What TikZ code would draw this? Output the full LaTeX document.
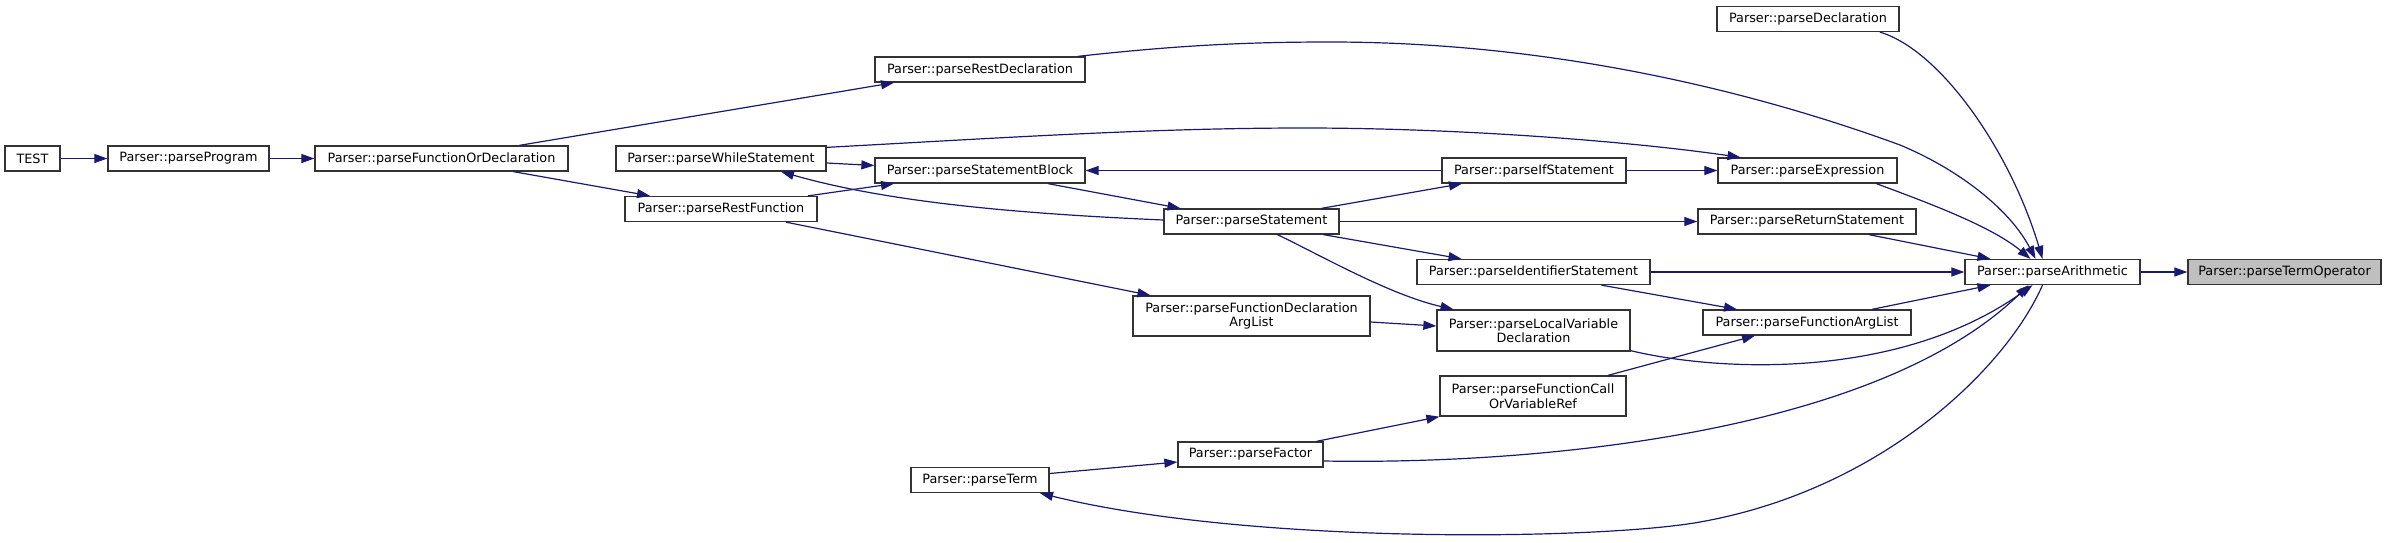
\documentclass[tikz,border=0pt]{standalone}
\usepackage{fontspec}
\setmainfont{DejaVu Sans}
\usetikzlibrary{arrows.meta}
\definecolor{edgeblue}{HTML}{191970}
\definecolor{boxline}{HTML}{333333}
\definecolor{hilite}{HTML}{BFBFBF}
\tikzset{
  fn/.style={draw=boxline, line width=1.3pt, fill=white, inner sep=0pt,
    minimum height=25pt, font=\fontsize{12.8}{14.5}\selectfont, align=center},
  fnsel/.style={fn, fill=hilite},
  call/.style={draw=edgeblue, line width=1.2pt,
    -{Triangle[length=13pt,width=9pt]}, edgeblue}
}
\begin{document}
\begin{tikzpicture}[x=1pt,y=-1pt]
\useasboundingbox (0,0) rectangle (2385,542);
% nodes
\node[fn, minimum width=55pt]  (test) at (32.5,158.5) {TEST};
\node[fn, minimum width=161pt] (prog) at (188.5,158.5) {Parser::parseProgram};
\node[fn, minimum width=253pt] (fod)  at (441.5,158.5) {Parser::parseFunctionOrDeclaration};
\node[fn, minimum width=210pt] (rd)   at (980,69.5) {Parser::parseRestDeclaration};
\node[fn, minimum width=210pt] (ws)   at (721,158.5) {Parser::parseWhileStatement};
\node[fn, minimum width=210pt] (sb)   at (980,170.5) {Parser::parseStatementBlock};
\node[fn, minimum width=192pt] (rf)   at (721,209) {Parser::parseRestFunction};
\node[fn, minimum width=175pt] (st)   at (1251.5,221.5) {Parser::parseStatement};
\node[fn, minimum width=184pt] (ifs)  at (1534,170.5) {Parser::parseIfStatement};
\node[fn, minimum width=179pt] (expr) at (1807.5,170.5) {Parser::parseExpression};
\node[fn, minimum width=182pt] (decl) at (1808,19) {Parser::parseDeclaration};
\node[fn, minimum width=218pt] (ret)  at (1807,221.5) {Parser::parseReturnStatement};
\node[fn, minimum width=233pt] (ids)  at (1533.5,272) {Parser::parseIdentifierStatement};
\node[fn, minimum width=175pt] (ar)   at (2052.5,272) {Parser::parseArithmetic};
\node[fnsel, minimum width=193pt] (to) at (2284.5,272) {Parser::parseTermOperator};
\node[fn, minimum width=208pt] (fal)  at (1807,322.5) {Parser::parseFunctionArgList};
\node[fn, minimum width=237pt, minimum height=40pt] (fdal) at (1251.5,316) {Parser::parseFunctionDeclaration\\ArgList};
\node[fn, minimum width=193pt, minimum height=41pt] (lvd)  at (1533.5,330.5) {Parser::parseLocalVariable\\Declaration};
\node[fn, minimum width=186pt, minimum height=40pt] (fcv)  at (1533,396) {Parser::parseFunctionCall\\OrVariableRef};
\node[fn, minimum width=145pt] (fac)  at (1250.5,454.5) {Parser::parseFactor};
\node[fn, minimum width=138pt] (term) at (980,480) {Parser::parseTerm};
% edges
\draw[call] (test.east) -- (prog.west);
\draw[call] (prog.east) -- (fod.west);
\draw[call] ([xshift=78pt]fod.north) -- ([xshift=-86pt]rd.south);
\draw[call] ([xshift=72pt]fod.south) -- ([xshift=-71pt]rf.north);
\draw[call] ([xshift=98pt]rd.north) .. controls (1180,45) and (1250,42) .. (1330,42)
  .. controls (1550,42) and (1750,90) .. (1900,145)
  .. controls (1960,170) and (2010,210) .. ([xshift=-17pt]ar.north);
\draw[call] ([yshift=-2pt]ws.north east) .. controls (1000,138) and (1150,128) .. (1304,128)
  .. controls (1450,128) and (1620,140) .. ([xshift=-67pt]expr.north);
\draw[call] ([yshift=-4.5pt]ws.east) -- ([yshift=5pt]sb.west);
\draw[call] ([xshift=87pt]rf.north) -- ([xshift=-86pt]sb.south);
\draw[call] ([xshift=68pt]sb.south) -- ([xshift=-71pt]st.north);
\draw[call] ([yshift=1.5pt]st.west) .. controls (1000,213) and (880,200) .. ([xshift=60pt]ws.south);
\draw[call] (ifs.west) -- (sb.east);
\draw[call] ([xshift=70pt]st.north) -- ([xshift=-72pt]ifs.south);
\draw[call] (ifs.east) -- (expr.west);
\draw[call] (st.east) -- (ret.west);
\draw[call] ([xshift=72pt]st.south) -- ([xshift=-72pt]ids.north);
\draw[call] ([xshift=26pt]st.south) .. controls (1320,255) and (1390,295) .. ([xshift=-80pt]lvd.north);
\draw[call] ([xshift=65pt]rf.south) -- ([xshift=-101pt]fdal.north);
\draw[call] ([yshift=-6pt]fdal.east) -- ([yshift=4.5pt]lvd.west);
\draw[call] ([xshift=69pt]expr.south) .. controls (1920,200) and (1990,225) .. ([xshift=-22pt]ar.north);
\draw[call] ([xshift=72pt]decl.south) .. controls (1940,50) and (2010,150) .. ([xshift=-10pt]ar.north);
\draw[call] ([xshift=62pt]ret.south) -- ([xshift=-62pt]ar.north);
\draw[call] (ids.east) -- (ar.west);
\draw[call] ([xshift=68pt]ids.south) -- ([xshift=-70pt]fal.north);
\draw[call] ([xshift=65pt]fal.north) -- ([xshift=-62pt]ar.south);
\draw[call] ([yshift=1pt]lvd.south east) .. controls (1720,372) and (1900,380) .. ([xshift=-20pt]ar.south);
\draw[call] ([xshift=75pt]fcv.north) -- ([xshift=-52pt]fal.south);
\draw[call] ([xshift=66pt]fac.north) -- (fcv.south west);
\draw[call] ([yshift=-6.5pt]fac.east) .. controls (1550,465) and (1880,430) .. ([xshift=-24pt]ar.south);
\draw[call] ([yshift=6.5pt]term.east) -- ([yshift=-7.5pt]fac.west);
\draw[call] ([xshift=-10pt]ar.south) .. controls (2005,370) and (1880,490) .. (1700,522)
  .. controls (1600,540) and (1250,545) .. ([xshift=60pt]term.south);
\draw[call] (ar.east) -- (to.west);
\end{tikzpicture}
\end{document}
